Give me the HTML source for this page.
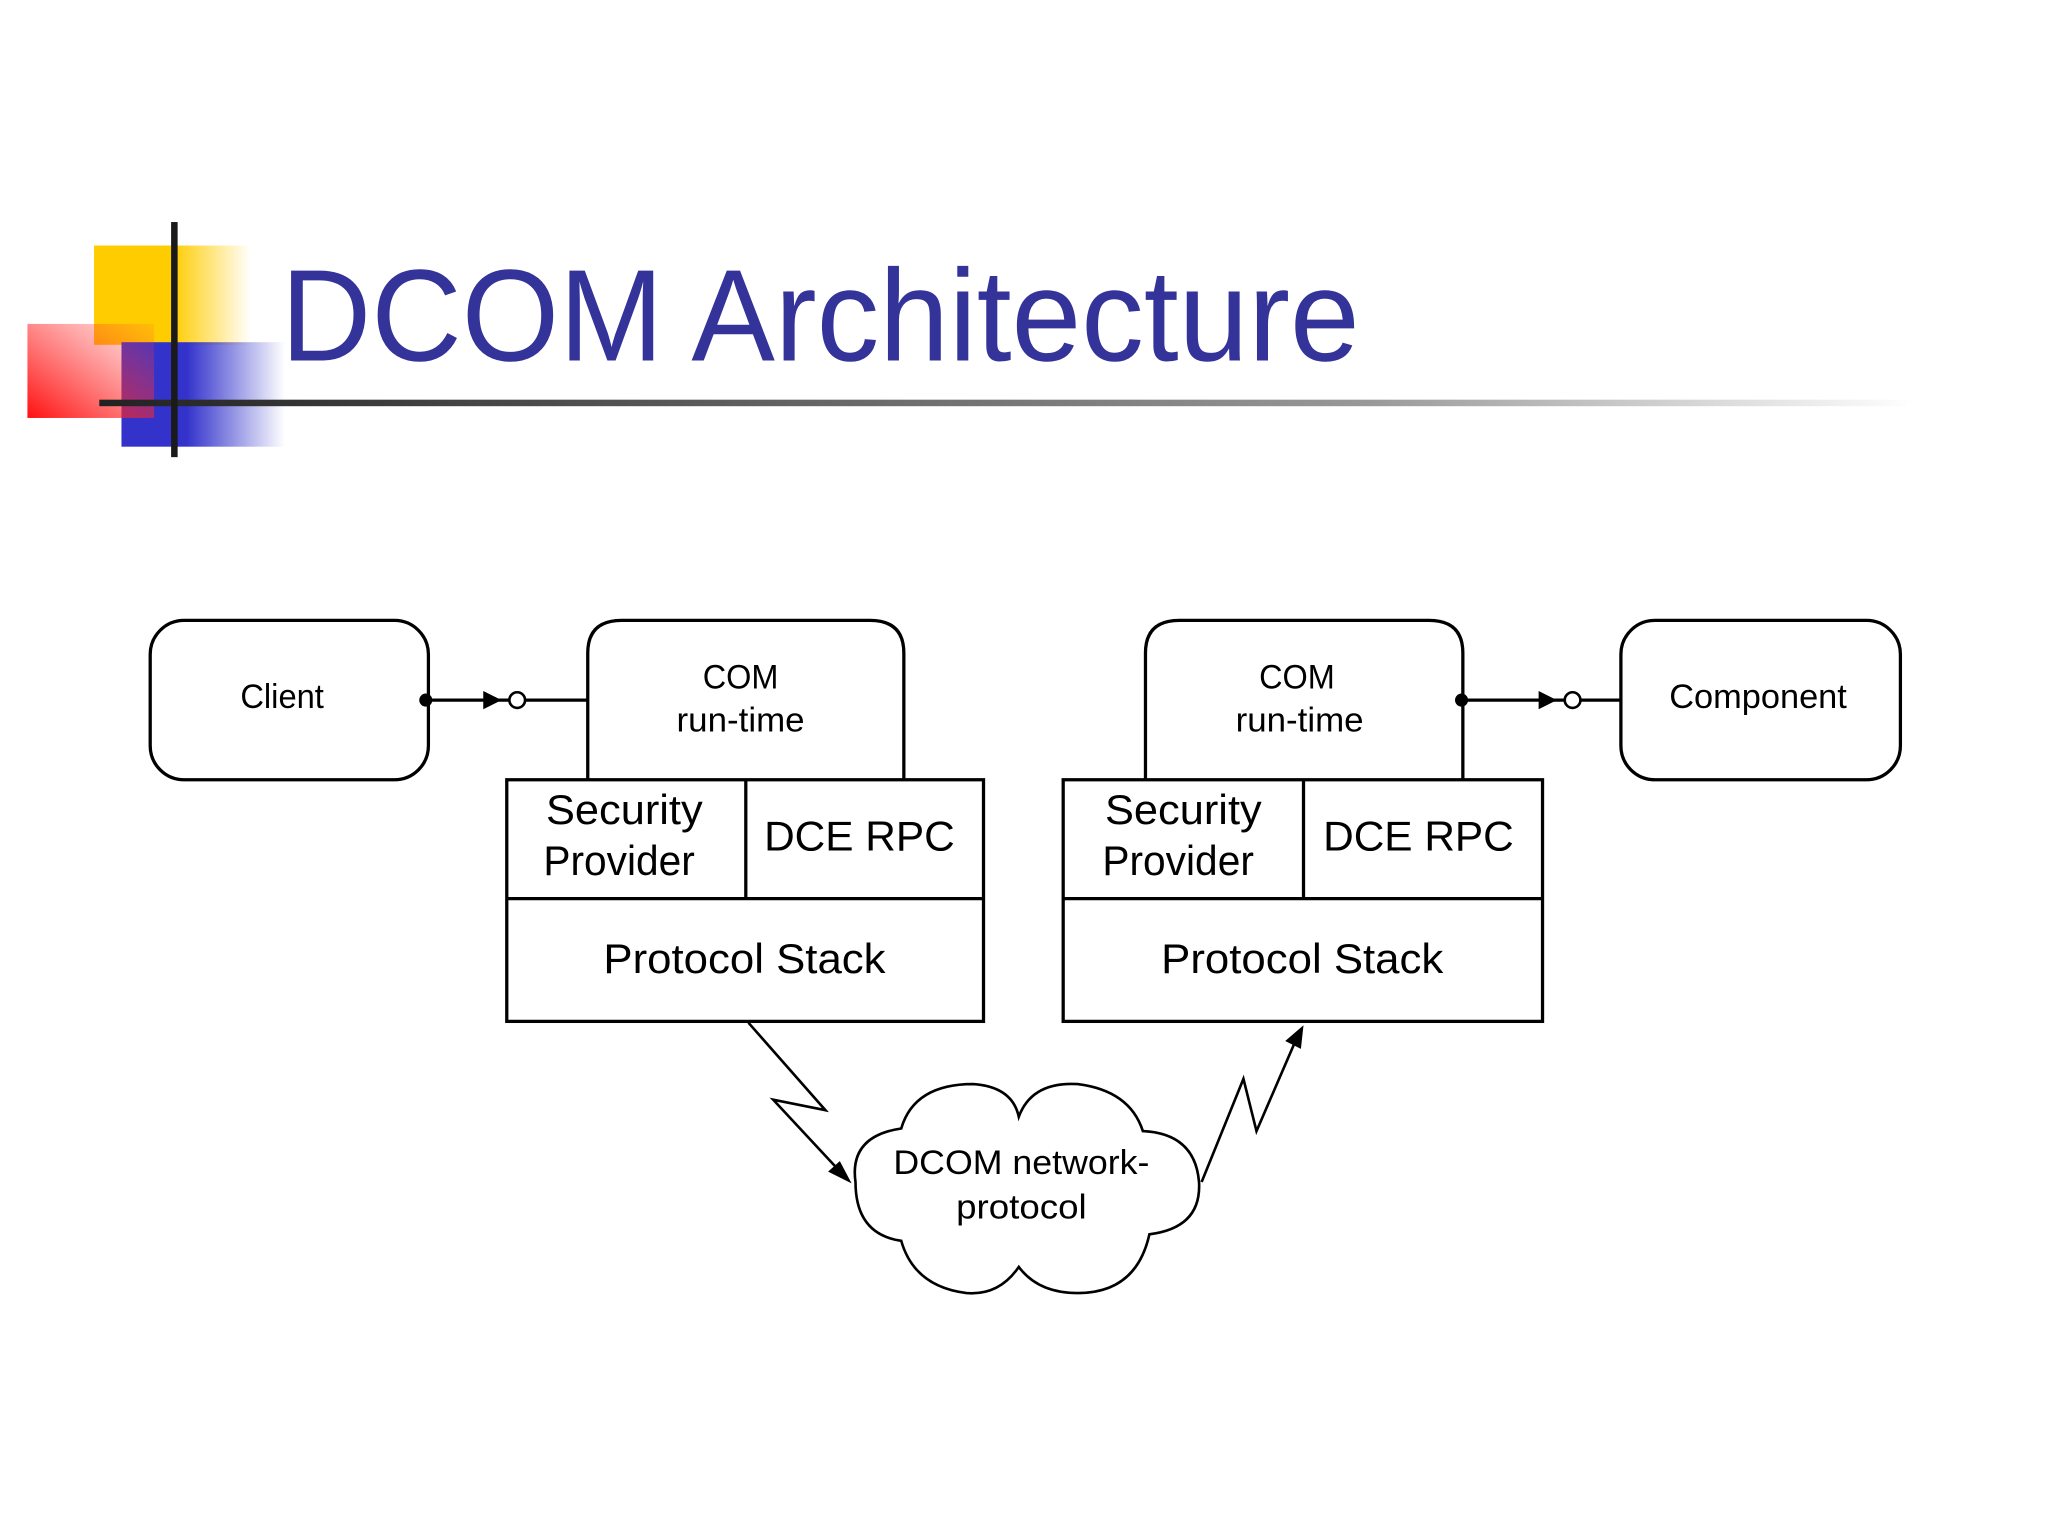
<!DOCTYPE html>
<html><head><meta charset="utf-8"><style>html,body{margin:0;padding:0;background:#fff}svg{display:block}</style></head>
<body>
<svg width="2048" height="1536" viewBox="0 0 1568 1176" xmlns="http://www.w3.org/2000/svg">
<defs>
<linearGradient id="gy" x1="0" x2="1"><stop offset="0" stop-color="#ffcc00"/><stop offset="0.5" stop-color="#ffcc00"/><stop offset="1" stop-color="#ffcc00" stop-opacity="0"/></linearGradient>
<linearGradient id="gb" x1="0" x2="1"><stop offset="0" stop-color="#3333cc"/><stop offset="0.4" stop-color="#3333cc"/><stop offset="1" stop-color="#3333cc" stop-opacity="0"/></linearGradient>
<linearGradient id="gr" x1="0" y1="1" x2="1" y2="0"><stop offset="0" stop-color="#ff1010"/><stop offset="1" stop-color="#ff4040" stop-opacity="0.1"/></linearGradient>
<linearGradient id="gl" x1="0" x2="1"><stop offset="0" stop-color="#222"/><stop offset="0.3" stop-color="#555"/><stop offset="0.7" stop-color="#999"/><stop offset="1" stop-color="#fff"/></linearGradient>
</defs>
<rect x="72" y="188" width="120" height="76" fill="url(#gy)"/>
<rect x="93" y="262" width="125" height="80" fill="url(#gb)"/>
<rect x="21" y="248" width="97" height="72" fill="url(#gr)"/>
<rect x="76" y="306" width="1390" height="5" fill="url(#gl)"/>
<rect x="131" y="170" width="5" height="180" fill="#1a1a1a"/>
<text x="215" y="276" font-family="Liberation Sans, sans-serif" font-size="100" fill="#333399" textLength="826" lengthAdjust="spacingAndGlyphs">DCOM Architecture</text>

<g fill="none" stroke="#000" stroke-width="2.5">
<rect x="115" y="475" width="213" height="122" rx="26"/>
<path d="M450,597 V500 Q450,475 476,475 H666 Q692,475 692,500 V597"/>
<path d="M877,597 V500 Q877,475 903,475 H1094 Q1120,475 1120,500 V597"/>
<rect x="1241" y="475" width="214" height="122" rx="26"/>
<rect x="388" y="597" width="365" height="185" fill="#fff"/>
<line x1="388" y1="688" x2="753" y2="688"/><line x1="571" y1="597" x2="571" y2="688"/>
<rect x="814" y="597" width="367" height="185" fill="#fff"/>
<line x1="814" y1="688" x2="1181" y2="688"/><line x1="998" y1="597" x2="998" y2="688"/>
<line x1="328" y1="536" x2="390" y2="536"/><line x1="402" y1="536" x2="450" y2="536"/>
<circle cx="396" cy="536" r="6" stroke-width="2"/>
<line x1="1120" y1="536" x2="1198" y2="536"/><line x1="1210" y1="536" x2="1241" y2="536"/>
<circle cx="1204" cy="536" r="6" stroke-width="2"/>
<path d="M573,783 L632,850 L592,842 L646,900" stroke-width="2"/>
<path d="M920,905 L952,826 L962,866 L994,792" stroke-width="2"/>
<path d="M655,905 Q650,870 690,864 Q700,830 745,830 Q775,832 780,855 Q790,828 825,830 Q865,835 875,866 Q915,868 918,905 Q920,940 880,945 Q870,990 825,990 Q795,990 780,970 Q765,992 740,990 Q700,985 690,950 Q655,945 655,905 Z" stroke-width="2"/>
</g>
<g fill="#000">
<circle cx="326" cy="536" r="5"/><path d="M370,529 L384,536 L370,543Z"/>
<circle cx="1119" cy="536" r="5"/><path d="M1178,529 L1192,536 L1178,543Z"/>
<path d="M652,906 L634,897 L643,889Z"/>
<path d="M998,785 L996,803 L984,797Z"/>
</g>
<g font-family="Liberation Sans, sans-serif" fill="#000" text-anchor="middle">
<text x="216" y="542" font-size="26" textLength="64" lengthAdjust="spacingAndGlyphs">Client</text>
<text x="567" y="527" font-size="26" textLength="58" lengthAdjust="spacingAndGlyphs">COM</text>
<text x="567" y="560" font-size="26" textLength="98" lengthAdjust="spacingAndGlyphs">run-time</text>
<text x="993" y="527" font-size="26" textLength="58" lengthAdjust="spacingAndGlyphs">COM</text>
<text x="995" y="560" font-size="26" textLength="98" lengthAdjust="spacingAndGlyphs">run-time</text>
<text x="1346" y="542" font-size="26" textLength="136" lengthAdjust="spacingAndGlyphs">Component</text>
<text x="478" y="631" font-size="32" textLength="120" lengthAdjust="spacingAndGlyphs">Security</text>
<text x="474" y="670" font-size="32" textLength="116" lengthAdjust="spacingAndGlyphs">Provider</text>
<text x="658" y="651" font-size="32" textLength="146" lengthAdjust="spacingAndGlyphs">DCE RPC</text>
<text x="570" y="745" font-size="32" textLength="216" lengthAdjust="spacingAndGlyphs">Protocol Stack</text>
<text x="906" y="631" font-size="32" textLength="120" lengthAdjust="spacingAndGlyphs">Security</text>
<text x="902" y="670" font-size="32" textLength="116" lengthAdjust="spacingAndGlyphs">Provider</text>
<text x="1086" y="651" font-size="32" textLength="146" lengthAdjust="spacingAndGlyphs">DCE RPC</text>
<text x="997" y="745" font-size="32" textLength="216" lengthAdjust="spacingAndGlyphs">Protocol Stack</text>
<text x="782" y="899" font-size="26" textLength="196" lengthAdjust="spacingAndGlyphs">DCOM network-</text>
<text x="782" y="933" font-size="26" textLength="100" lengthAdjust="spacingAndGlyphs">protocol</text>
</g>
</svg>
</body></html>
